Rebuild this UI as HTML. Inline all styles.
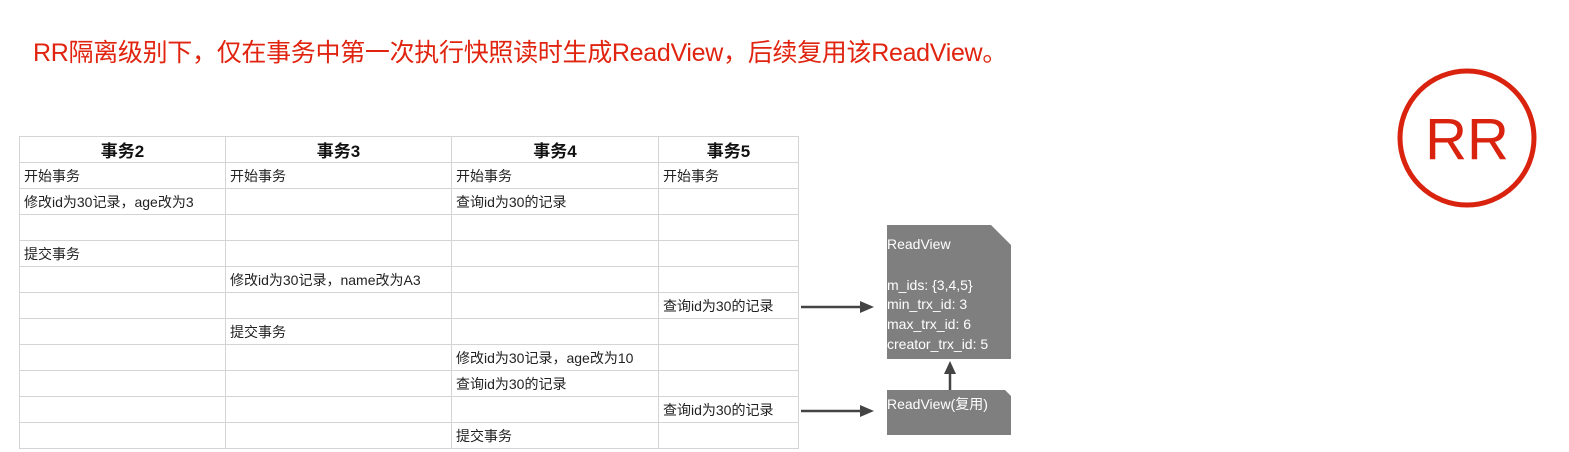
<!DOCTYPE html>
<html><head><meta charset="utf-8"><style>
body{margin:0;width:1569px;height:452px;background:#fff;position:relative;overflow:hidden;font-family:"Liberation Sans","Noto Sans CJK SC",sans-serif}
.t{position:absolute;left:33px;top:33px;color:#e0240f;font-size:25px;white-space:nowrap;letter-spacing:-0.3px}
table{position:absolute;left:19px;top:136px;border-collapse:collapse;font-size:14px;color:#222}
td{border:1px solid #d4d4d4;height:25px;padding:0 0 0 4px;white-space:nowrap;overflow:hidden}
th{border:1px solid #d4d4d4;height:25px;padding:0;font-size:17px;font-weight:bold;color:#111}
</style></head><body>
<div class="t">RR隔离级别下，仅在事务中第一次执行快照读时生成ReadView，后续复用该ReadView。</div>
<table>
<colgroup><col style="width:206px"><col style="width:226px"><col style="width:207px"><col style="width:140px"></colgroup>
<tr><th>事务2</th><th>事务3</th><th>事务4</th><th>事务5</th></tr>
<tr><td>开始事务</td><td>开始事务</td><td>开始事务</td><td>开始事务</td></tr>
<tr><td>修改id为30记录，age改为3</td><td></td><td>查询id为30的记录</td><td></td></tr>
<tr><td></td><td></td><td></td><td></td></tr>
<tr><td>提交事务</td><td></td><td></td><td></td></tr>
<tr><td></td><td>修改id为30记录，name改为A3</td><td></td><td></td></tr>
<tr><td></td><td></td><td></td><td>查询id为30的记录</td></tr>
<tr><td></td><td>提交事务</td><td></td><td></td></tr>
<tr><td></td><td></td><td>修改id为30记录，age改为10</td><td></td></tr>
<tr><td></td><td></td><td>查询id为30的记录</td><td></td></tr>
<tr><td></td><td></td><td></td><td>查询id为30的记录</td></tr>
<tr><td></td><td></td><td>提交事务</td><td></td></tr>
</table>
<svg width="1569" height="452" style="position:absolute;left:0;top:0">
<polygon points="887,225 991,225 1011,245 1011,359 887,359" fill="#7f7f7f"/>
<polygon points="887,390 1005,390 1011,396 1011,435 887,435" fill="#7f7f7f"/>
<g fill="#fff" font-size="14" font-family="Liberation Sans,Noto Sans CJK SC,sans-serif">
<text x="887" y="249">ReadView</text>
<text x="887" y="290">m_ids: {3,4,5}</text>
<text x="887" y="309">min_trx_id: 3</text>
<text x="887" y="329">max_trx_id: 6</text>
<text x="887" y="349">creator_trx_id: 5</text>
<text x="887" y="409">ReadView(复用)</text>
</g>
<g stroke="#444" stroke-width="2.5"><line x1="801" y1="307" x2="862" y2="307"/><line x1="801" y1="411" x2="862" y2="411"/><line x1="950" y1="390" x2="950" y2="372"/></g>
<g fill="#444"><polygon points="874,307 860,301 860,313"/><polygon points="874,411 860,405 860,417"/><polygon points="950,361 944,374 956,374"/></g>
<circle cx="1467" cy="138" r="67" fill="none" stroke="#d9230f" stroke-width="5"/>
<text x="1467" y="159" text-anchor="middle" fill="#d9230f" font-size="58" font-family="Liberation Sans,sans-serif">RR</text>
</svg>
</body></html>
